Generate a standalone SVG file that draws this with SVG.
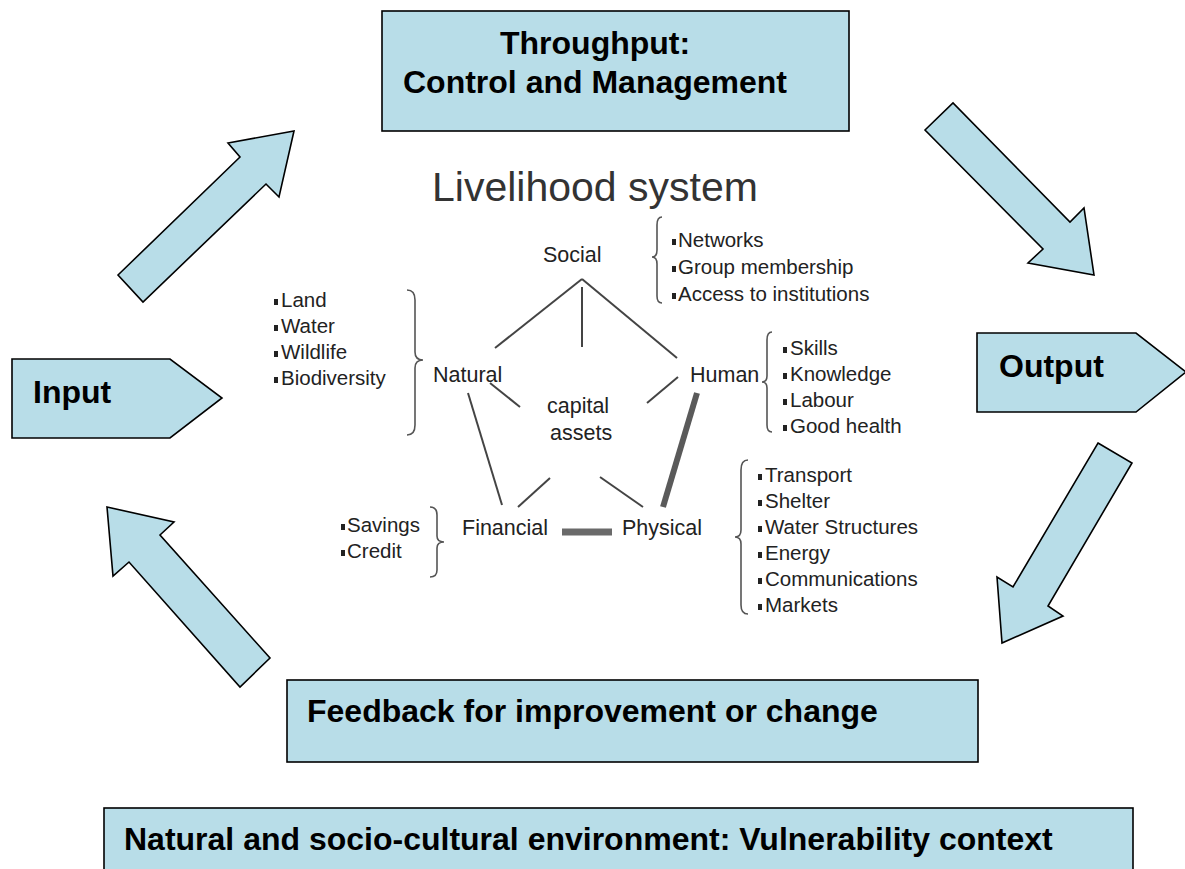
<svg xmlns="http://www.w3.org/2000/svg" width="1185" height="869" viewBox="0 0 1185 869">
<style>
.box{fill:#b8dde8;stroke:#000;stroke-width:1.6}
.big{font-family:"Liberation Sans",Arial,sans-serif;font-weight:bold;font-size:32px;fill:#000}
.lbl{font-family:"Liberation Sans",Arial,sans-serif;font-size:21.5px;fill:#222}
.lst{font-family:"Liberation Sans",Arial,sans-serif;font-size:20.5px;fill:#222}
.ttl{font-family:"Liberation Sans",Arial,sans-serif;font-size:41px;fill:#333}
.ln{stroke:#444;stroke-width:2;fill:none}
.br{stroke:#555;stroke-width:1.6;fill:none}
.bul{fill:#222}
</style>
<rect width="1185" height="869" fill="#fff"/>

<g id="connectors">
  <polygon class="box" points="118,275 240,157 228,143 294,131 279,197 266,184 143,302"/>
  <polygon class="box" points="925,130 953,103 1070,222 1084,208 1094,275 1028,263 1043,249"/>
  <polygon class="box" points="1098,443 1132,463 1048,606 1063,616 1002,643 997,577 1013,587"/>
  <polygon class="box" points="107,507 174,522 160,535 270,658 240,687 129,562 113,576"/>
</g>

<g id="throughput">
  <rect class="box" x="382" y="11" width="467" height="120"/>
  <text class="big" x="500" y="54">Throughput:</text>
  <text class="big" x="403" y="93">Control and Management</text>
</g>

<g id="input">
  <polygon class="box" points="12,359 170,359 222,398 170,438 12,438"/>
  <text class="big" x="33" y="403">Input</text>
</g>

<g id="output">
  <polygon class="box" points="977,333 1136,333 1186,372 1136,412 977,412"/>
  <text class="big" x="999" y="377">Output</text>
</g>

<g id="feedback">
  <rect class="box" x="287" y="680" width="691" height="82"/>
  <text class="big" x="307" y="722">Feedback for improvement or change</text>
</g>

<g id="environment">
  <rect class="box" x="104" y="808" width="1029" height="70"/>
  <text class="big" x="124" y="850">Natural and socio-cultural environment: Vulnerability context</text>
</g>

<g id="livelihood-system">
  <text class="ttl" x="432" y="201">Livelihood system</text>

  <g id="pentagon-lines">
    <line class="ln" x1="582" y1="279" x2="495" y2="348"/>
    <line class="ln" x1="582" y1="279" x2="677" y2="358"/>
    <line class="ln" x1="582" y1="287" x2="582" y2="347"/>
    <line class="ln" x1="490" y1="383" x2="520" y2="407"/>
    <line class="ln" x1="678" y1="377" x2="647" y2="403"/>
    <line class="ln" x1="468" y1="393" x2="502" y2="505"/>
    <line class="ln" x1="518" y1="507" x2="550" y2="478"/>
    <line class="ln" x1="600" y1="477" x2="643" y2="507"/>
    <line x1="697" y1="393" x2="663" y2="507" stroke="#5a5a5a" stroke-width="6"/>
    <line x1="562" y1="532" x2="612" y2="532" stroke="#6a6a6a" stroke-width="7"/>
  </g>

  <g id="social">
    <text class="lbl" x="543" y="262">Social</text>
    <path class="br" d="M662 217 Q657 217 657 225 L657 250 Q657 257 652 257 Q657 257 657 264 L657 296 Q657 303 662 303"/>
    <rect class="bul" x="672" y="239" width="4" height="6"/><text class="lst" x="678" y="247">Networks</text>
    <rect class="bul" x="672" y="266" width="4" height="6"/><text class="lst" x="678" y="274">Group membership</text>
    <rect class="bul" x="672" y="293" width="4" height="6"/><text class="lst" x="678" y="301">Access to institutions</text>
  </g>

  <g id="natural">
    <text class="lbl" x="433" y="382">Natural</text>
    <path class="br" d="M407 290 Q415 290 415 300 L415 352 Q415 360 423 360 Q415 360 415 368 L415 425 Q415 435 407 435"/>
    <rect class="bul" x="274" y="299" width="4" height="6"/><text class="lst" x="281" y="307">Land</text>
    <rect class="bul" x="274" y="325" width="4" height="6"/><text class="lst" x="281" y="333">Water</text>
    <rect class="bul" x="274" y="351" width="4" height="6"/><text class="lst" x="281" y="359">Wildlife</text>
    <rect class="bul" x="274" y="377" width="4" height="6"/><text class="lst" x="281" y="385">Biodiversity</text>
  </g>

  <g id="human">
    <text class="lbl" x="690" y="382">Human</text>
    <path class="br" d="M772 332 Q767 332 767 340 L767 376 Q767 382 762 382 Q767 382 767 388 L767 425 Q767 432 772 432"/>
    <rect class="bul" x="783" y="347" width="4" height="6"/><text class="lst" x="790" y="355">Skills</text>
    <rect class="bul" x="783" y="373" width="4" height="6"/><text class="lst" x="790" y="381">Knowledge</text>
    <rect class="bul" x="783" y="399" width="4" height="6"/><text class="lst" x="790" y="407">Labour</text>
    <rect class="bul" x="783" y="425" width="4" height="6"/><text class="lst" x="790" y="433">Good health</text>
  </g>

  <g id="capital-assets">
    <text class="lbl" x="547" y="413">capital</text>
    <text class="lbl" x="550" y="440">assets</text>
  </g>

  <g id="financial">
    <text class="lbl" x="462" y="535">Financial</text>
    <path class="br" d="M430 507 Q437 507 437 515 L437 536 Q437 542 444 542 Q437 542 437 548 L437 570 Q437 577 430 577"/>
    <rect class="bul" x="341" y="524" width="4" height="6"/><text class="lst" x="347" y="532">Savings</text>
    <rect class="bul" x="341" y="550" width="4" height="6"/><text class="lst" x="347" y="558">Credit</text>
  </g>

  <g id="physical">
    <text class="lbl" x="622" y="535">Physical</text>
    <path class="br" d="M748 460 Q741 460 741 470 L741 530 Q741 537 735 537 Q741 537 741 544 L741 605 Q741 614 748 614"/>
    <rect class="bul" x="758" y="474" width="4" height="6"/><text class="lst" x="765" y="482">Transport</text>
    <rect class="bul" x="758" y="500" width="4" height="6"/><text class="lst" x="765" y="508">Shelter</text>
    <rect class="bul" x="758" y="526" width="4" height="6"/><text class="lst" x="765" y="534">Water Structures</text>
    <rect class="bul" x="758" y="552" width="4" height="6"/><text class="lst" x="765" y="560">Energy</text>
    <rect class="bul" x="758" y="578" width="4" height="6"/><text class="lst" x="765" y="586">Communications</text>
    <rect class="bul" x="758" y="604" width="4" height="6"/><text class="lst" x="765" y="612">Markets</text>
  </g>
</g>
</svg>
